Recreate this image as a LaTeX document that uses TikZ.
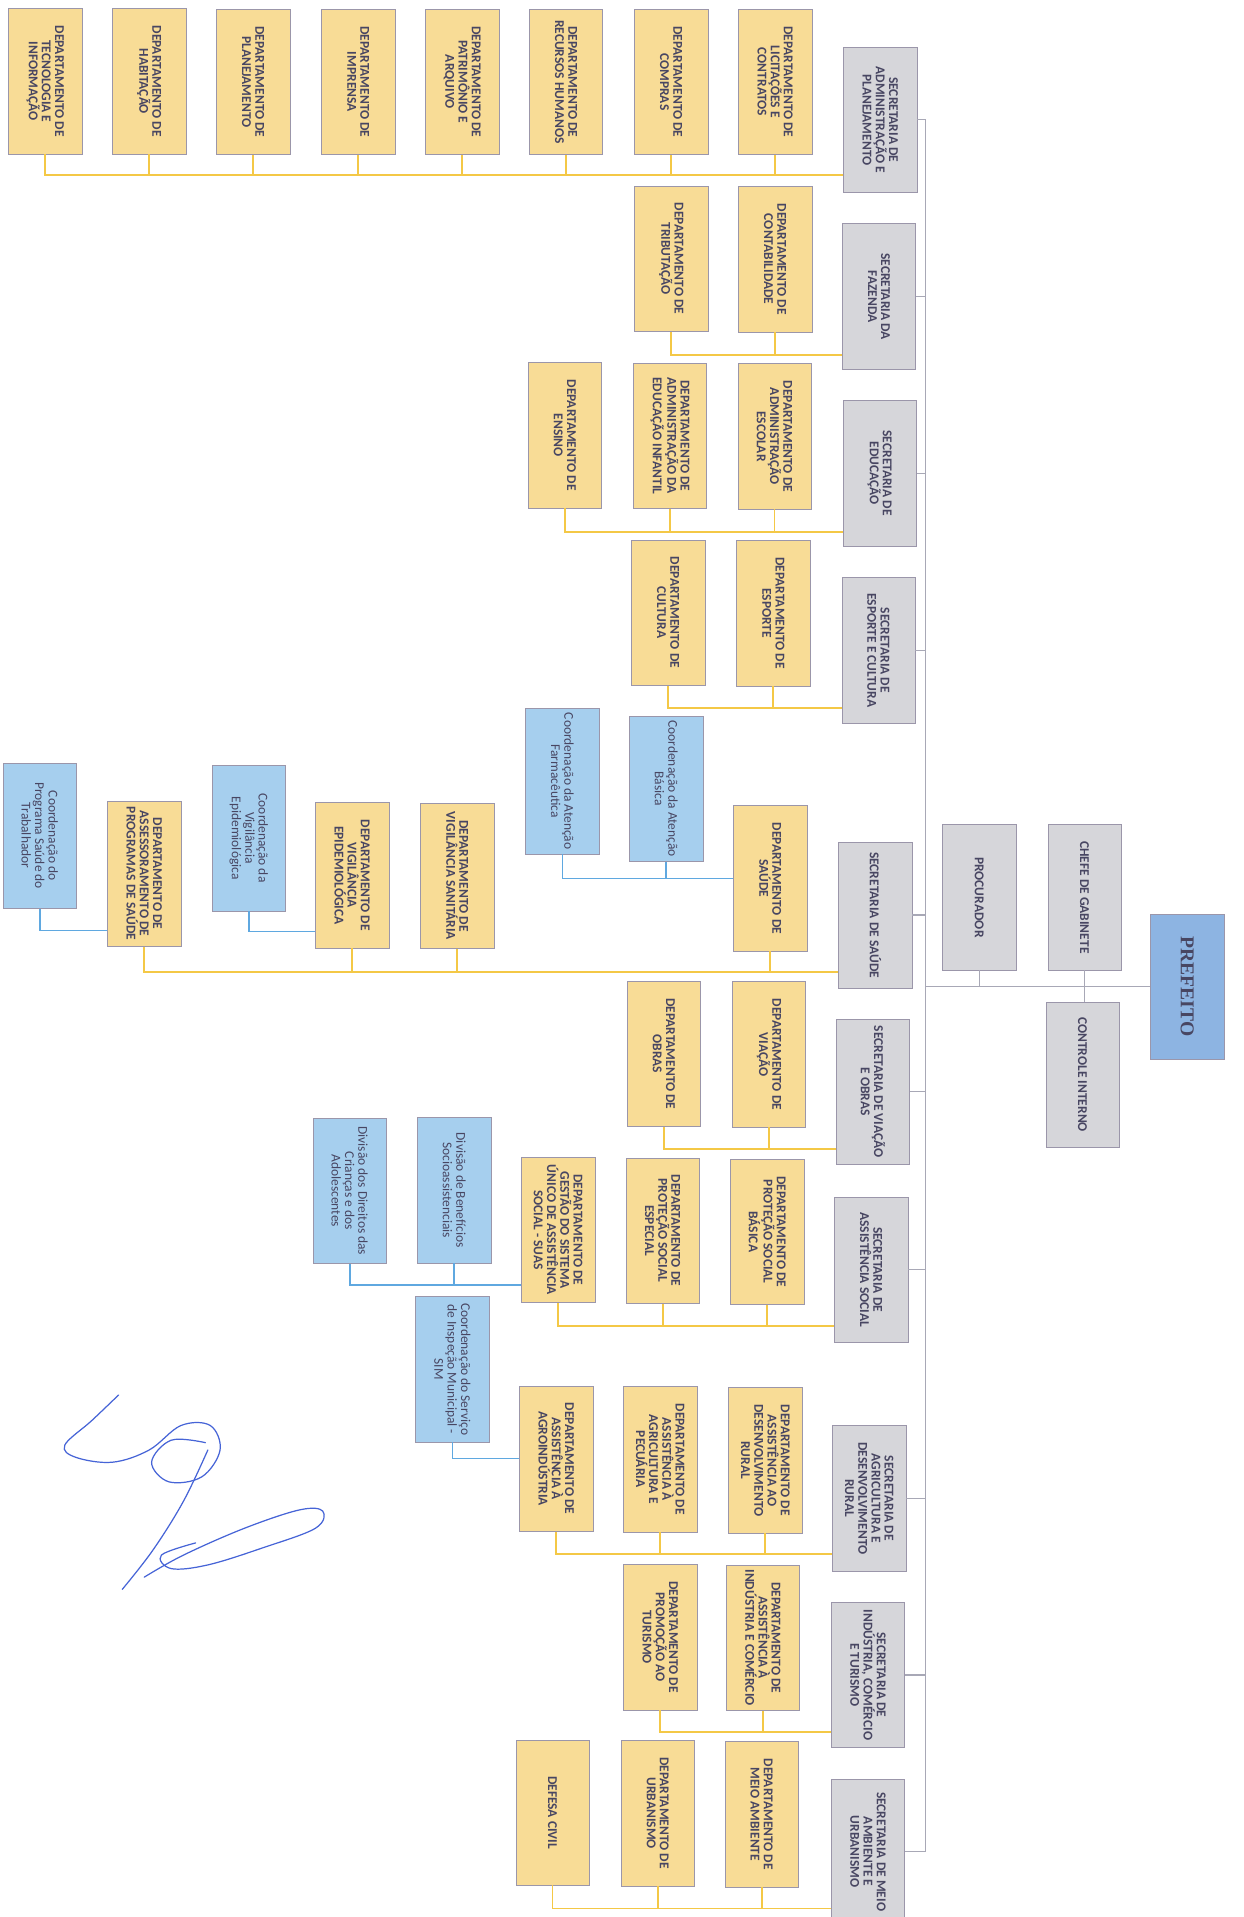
\documentclass[tikz,border=0pt]{standalone}
\usepackage{fontspec}
\setmainfont{Carlito}
\newfontfamily\titlefont{Liberation Serif}
\usepackage{tikz}
\usetikzlibrary{shapes}

\definecolor{DeptYellow}{RGB}{248,220,150}
\definecolor{SecGray}{RGB}{214,214,218}
\definecolor{CoordBlue}{RGB}{166,207,238}
\definecolor{MayorBlue}{RGB}{141,180,226}
\definecolor{BoxLine}{RGB}{155,150,170}
\definecolor{TextGray}{RGB}{72,70,98}
\definecolor{LineGold}{RGB}{244,200,70}
\definecolor{LineBlue}{RGB}{95,168,224}
\definecolor{LineGray}{RGB}{168,168,182}
\definecolor{SignInk}{RGB}{70,100,215}

\begin{document}
\begin{tikzpicture}[x=1pt, y=-1pt,
  department/.style={rectangle, draw=BoxLine, fill=DeptYellow, rotate=-90,
    minimum width=119pt, minimum height=60pt, inner sep=1pt, align=center,
    text=TextGray, font=\fontsize{11}{10.8}\selectfont\bfseries},
  %
  secretary/.style={department, fill=SecGray},
  %
  coordination/.style={department, fill=CoordBlue,
    font=\fontsize{11}{11}\selectfont},
  %
  mayor/.style={department, fill=MayorBlue,
    font=\titlefont\fontsize{16}{16}\selectfont\bfseries},
  %
  deptlink/.style={draw=LineGold, line width=1.4pt},
  coordlink/.style={draw=LineBlue, line width=1.4pt},
  seclink/.style={draw=LineGray, line width=1pt},
  signature/.style={draw=SignInk, line width=1pt, line cap=round}
  ]

  \fill[white] (0,0) rectangle (1017,1568);
  \useasboundingbox (0,0) rectangle (1017,1568);

  \coordinate (spine) at (757,0);
  \coordinate (busAdm) at (0,143);
  \coordinate (busFaz) at (0,290.5);
  \coordinate (busEdu) at (0,435);
  \coordinate (busEsp) at (0,579);
  \coordinate (busSaude) at (0,795);
  \coordinate (busTrab) at (0,761);
  \coordinate (busVigEpi) at (0,762);
  \coordinate (busViacao) at (0,940);
  \coordinate (busSocial) at (0,1051);
  \coordinate (busAssist) at (0,1084.5);
  \coordinate (busAgri) at (0,1271);
  \coordinate (busInd) at (0,1416.5);
  \coordinate (busMeio) at (0,1561);

  \begin{scope}
    %%%%%%%%%%%%%%%%%%%%%%%%%%%%%%%
    \node [mayor] (prefeito) at (971,807) {PREFEITO};
    \node [secretary] (chefe) at (887,734) {CHEFE DE GABINETE};
    \node [secretary] (procurador) at (801,734) {PROCURADOR};
    \node [secretary] (controle) at (885.5,879) {CONTROLE INTERNO};
    %%%%%%%%%%%%%%%%%%%%%%%%%%%%%%%
    \node [secretary] (secAdm) at (720,98) {SECRETARIA DE\\ADMINISTRAÇÃO E\\PLANEJAMENTO};
    \node [department] (depTI) at (37,66.5) {DEPARTAMENTO DE\\TECNOLOGIA E\\INFORMAÇÃO};
    \node [department] (depHab) at (122,66.5) {DEPARTAMENTO DE\\HABITAÇÃO};
    \node [department] (depPlan) at (207,67) {DEPARTAMENTO DE\\PLANEJAMENTO};
    \node [department] (depImp) at (293,67) {DEPARTAMENTO DE\\IMPRENSA};
    \node [department] (depPatr) at (378,67) {DEPARTAMENTO DE\\PATRIMÔNIO E\\ARQUIVO};
    \node [department] (depRH) at (463,67) {DEPARTAMENTO DE\\RECURSOS HUMANOS};
    \node [department] (depCompras) at (549,67) {DEPARTAMENTO DE\\COMPRAS};
    \node [department] (depLicit) at (634,67) {DEPARTAMENTO DE\\LICITAÇÕES E\\CONTRATOS};
    %%%%%%%%%%%%%%%%%%%%%%%%%%%%%%%
    \node [secretary] (secFaz) at (719,242.5) {SECRETARIA DA\\FAZENDA};
    \node [department] (depTrib) at (549,211.5) {DEPARTAMENTO DE\\TRIBUTAÇÃO};
    \node [department] (depContab) at (634,212) {DEPARTAMENTO DE\\CONTABILIDADE};
    %%%%%%%%%%%%%%%%%%%%%%%%%%%%%%%
    \node [secretary] (secEdu) at (719.5,387) {SECRETARIA DE\\EDUCAÇÃO};
    \node [department] (depEnsino) at (462,356) {DEPARTAMENTO DE\\ENSINO};
    \node [department] (depEdInf) at (548,356.5) {DEPARTAMENTO DE\\ADMINISTRAÇÃO DA\\EDUCAÇÃO INFANTIL};
    \node [department] (depEscolar) at (633.5,357) {DEPARTAMENTO DE\\ADMINISTRAÇÃO\\ESCOLAR};
    %%%%%%%%%%%%%%%%%%%%%%%%%%%%%%%
    \node [secretary] (secEsp) at (718.5,532) {SECRETARIA DE\\ESPORTE E CULTURA};
    \node [department] (depCultura) at (546.5,501) {DEPARTAMENTO DE\\CULTURA};
    \node [department] (depEsporte) at (632.5,501.5) {DEPARTAMENTO DE\\ESPORTE};
    %%%%%%%%%%%%%%%%%%%%%%%%%%%%%%%
    \node [secretary] (secSaude) at (716,748.5) {SECRETARIA DE SAÚDE};
    \node [department] (depSaude) at (630,718.5) {DEPARTAMENTO DE\\SAÚDE};
    \node [coordination] (coordFarm) at (460,639) {Coordenação da Atenção\\Farmacêutica};
    \node [coordination] (coordBasica) at (545,645) {Coordenação da Atenção\\Básica};
    \node [department] (depVigSan) at (374,716.5) {DEPARTAMENTO DE\\VIGILÂNCIA SANITÁRIA};
    \node [department] (depVigEpi) at (288,716) {DEPARTAMENTO DE\\VIGILÂNCIA\\EPIDEMIOLÓGICA};
    \node [coordination] (coordVigEpi) at (203.5,685.5) {Coordenação da\\Vigilância\\Epidemiológica};
    \node [department] (depAssess) at (118,714.5) {DEPARTAMENTO DE\\ASSESSORAMENTO DE\\PROGRAMAS DE SAÚDE};
    \node [coordination] (coordTrab) at (32.5,683.5) {Coordenação do\\Programa Saúde do\\Trabalhador};
    %%%%%%%%%%%%%%%%%%%%%%%%%%%%%%%
    \node [secretary] (secViacao) at (714,893) {SECRETARIA DE VIAÇÃO\\E OBRAS};
    \node [department] (depObras) at (543,862) {DEPARTAMENTO DE\\OBRAS};
    \node [department] (depViacao) at (629,862.5) {DEPARTAMENTO DE\\VIAÇÃO};
    %%%%%%%%%%%%%%%%%%%%%%%%%%%%%%%
    \node [secretary] (secAssist) at (712.5,1038.5) {SECRETARIA DE\\ASSISTÊNCIA SOCIAL};
    \node [department] (depProtBas) at (627.5,1007.5) {DEPARTAMENTO DE\\PROTEÇÃO SOCIAL\\BÁSICA};
    \node [department] (depProtEsp) at (542,1006.5) {DEPARTAMENTO DE\\PROTEÇÃO SOCIAL\\ESPECIAL};
    \node [department] (depSuas) at (456.5,1006) {DEPARTAMENTO DE\\GESTÃO DO SISTEMA\\ÚNICO DE ASSISTÊNCIA\\SOCIAL - SUAS};
    \node [coordination] (coordBenef) at (371.5,973.5) {Divisão de Benefícios\\Socioassistenciais};
    \node [coordination] (coordDireitos) at (286,974) {Divisão dos Direitos das\\Crianças e dos\\Adolescentes};
    %%%%%%%%%%%%%%%%%%%%%%%%%%%%%%%
    \node [secretary] (secAgri) at (711,1225.5) {SECRETARIA DE\\AGRICULTURA E\\DESENVOLVIMENTO\\RURAL};
    \node [department] (depRural) at (626,1194.5) {DEPARTAMENTO DE\\ASSISTÊNCIA AO\\DESENVOLVIMENTO\\RURAL};
    \node [department] (depAgroPec) at (540,1193.5) {DEPARTAMENTO DE\\ASSISTÊNCIA À\\AGRICULTURA E\\PECUÁRIA};
    \node [department] (depAgroind) at (455,1193) {DEPARTAMENTO DE\\ASSISTÊNCIA À\\AGROINDÚSTRIA};
    \node [coordination] (coordSim) at (370,1120) {Coordenação do Serviço\\de Inspeção Municipal -\\SIM};
    %%%%%%%%%%%%%%%%%%%%%%%%%%%%%%%
    \node [secretary] (secInd) at (710,1370) {SECRETARIA DE\\INDÚSTRIA, COMÉRCIO\\E TURISMO};
    \node [department] (depIndCom) at (624,1339.5) {DEPARTAMENTO DE\\ASSISTÊNCIA À\\INDÚSTRIA E COMÉRCIO};
    \node [department] (depTurismo) at (540,1339) {DEPARTAMENTO DE\\PROMOÇÃO AO\\TURISMO};
    %%%%%%%%%%%%%%%%%%%%%%%%%%%%%%%
    \node [secretary] (secMeio) at (710,1514.5) {SECRETARIA DE MEIO\\AMBIENTE E\\URBANISMO};
    \node [department] (depMeio) at (623,1484) {DEPARTAMENTO DE\\MEIO AMBIENTE};
    \node [department] (depUrban) at (538,1483) {DEPARTAMENTO DE\\URBANISMO};
    \node [department] (depDefesa) at (452,1482.5) {DEFESA CIVIL};
  \end{scope}

  \begin{scope}
    \draw [seclink] (prefeito.south) -- (prefeito.south -| spine);
    \draw [seclink] (procurador.east) -- (procurador.east |- prefeito.south);
    \draw [seclink] (chefe.east) -- (chefe.east |- controle.west);
    \draw [seclink] (secAdm.north) -- (secAdm.north -| spine) -- (secMeio.north -| spine) -- (secMeio.north);
    \draw [seclink] (secFaz.north) -- (secFaz.north -| spine);
    \draw [seclink] (secEdu.north) -- (secEdu.north -| spine);
    \draw [seclink] (secEsp.north) -- (secEsp.north -| spine);
    \draw [seclink] (secSaude.north) -- (secSaude.north -| spine);
    \draw [seclink] (secViacao.north) -- (secViacao.north -| spine);
    \draw [seclink] (secAssist.north) -- (secAssist.north -| spine);
    \draw [seclink] (secAgri.north) -- (secAgri.north -| spine);
    \draw [seclink] (secInd.north) -- (secInd.north -| spine);
  \end{scope}

  \begin{scope}
    \draw [deptlink] (depTI.east) |- (secAdm.south |- busAdm);
    \draw [deptlink] (depHab.east) -- (depHab.east |- busAdm);
    \draw [deptlink] (depPlan.east) -- (depPlan.east |- busAdm);
    \draw [deptlink] (depImp.east) -- (depImp.east |- busAdm);
    \draw [deptlink] (depPatr.east) -- (depPatr.east |- busAdm);
    \draw [deptlink] (depRH.east) -- (depRH.east |- busAdm);
    \draw [deptlink] (depCompras.east) -- (depCompras.east |- busAdm);
    \draw [deptlink] (depLicit.east) -- (depLicit.east |- busAdm);
    %
    \draw [deptlink] (depTrib.east) |- (secFaz.south |- busFaz);
    \draw [deptlink] (depContab.east) -- (depContab.east |- busFaz);
    %
    \draw [deptlink] (depEnsino.east) |- (secEdu.south |- busEdu);
    \draw [deptlink] (depEdInf.east) -- (depEdInf.east |- busEdu);
    \draw [deptlink] (depEscolar.east) -- (depEscolar.east |- busEdu);
    %
    \draw [deptlink] (depCultura.east) |- (secEsp.south |- busEsp);
    \draw [deptlink] (depEsporte.east) -- (depEsporte.east |- busEsp);
    %
    \draw [deptlink] (depAssess.east) |- (secSaude.south |- busSaude);
    \draw [deptlink] (depVigEpi.east) -- (depVigEpi.east |- busSaude);
    \draw [deptlink] (depVigSan.east) -- (depVigSan.east |- busSaude);
    \draw [deptlink] (depSaude.east) -- (depSaude.east |- busSaude);
    %
    \draw [deptlink] (depObras.east) |- (secViacao.south |- busViacao);
    \draw [deptlink] (depViacao.east) -- (depViacao.east |- busViacao);
    %
    \draw [deptlink] (depSuas.east) |- (secAssist.south |- busAssist);
    \draw [deptlink] (depProtEsp.east) -- (depProtEsp.east |- busAssist);
    \draw [deptlink] (depProtBas.east) -- (depProtBas.east |- busAssist);
    %
    \draw [deptlink] (depAgroind.east) |- (secAgri.south |- busAgri);
    \draw [deptlink] (depAgroPec.east) -- (depAgroPec.east |- busAgri);
    \draw [deptlink] (depRural.east) -- (depRural.east |- busAgri);
    %
    \draw [deptlink] (depTurismo.east) |- (secInd.south |- busInd);
    \draw [deptlink] (depIndCom.east) -- (depIndCom.east |- busInd);
    %
    \draw [deptlink] (depDefesa.east) |- (secMeio.south |- busMeio);
    \draw [deptlink] (depUrban.east) -- (depUrban.east |- busMeio);
    \draw [deptlink] (depMeio.east) -- (depMeio.east |- busMeio);
  \end{scope}

  \begin{scope}
    \draw [coordlink] (coordFarm.east) |- (depSaude.south);
    \draw [coordlink] (coordBasica.east) -- (coordBasica.east |- depSaude.south);
    \draw [coordlink] (coordVigEpi.east) |- (depVigEpi.south |- busVigEpi);
    \draw [coordlink] (coordTrab.east) |- (depAssess.south |- busTrab);
    \draw [coordlink] (coordDireitos.east) |- (depSuas.south |- busSocial);
    \draw [coordlink] (coordBenef.east) -- (coordBenef.east |- busSocial);
    \draw [coordlink] (coordSim.east) |- (depAgroind.south);
  \end{scope}

  % signature
  \draw [signature] plot [smooth, tension=0.6] coordinates {(97,1141) (75,1162) (53,1182)
    (62,1192) (92,1196) (122,1186) (148,1166) (172,1166) (180,1186) (165,1208) (138,1212)
    (124,1196) (140,1178) (168,1180)};
  \draw [signature] plot [smooth, tension=0.6] coordinates {(170,1186) (150,1228) (125,1268) (100,1300)};
  \draw [signature] plot [smooth, tension=0.6] coordinates {(118,1290) (150,1272) (200,1250)
    (245,1235) (264,1236) (258,1250) (215,1266) (170,1280) (140,1283) (132,1272) (160,1262)};
\end{tikzpicture}
\end{document}
